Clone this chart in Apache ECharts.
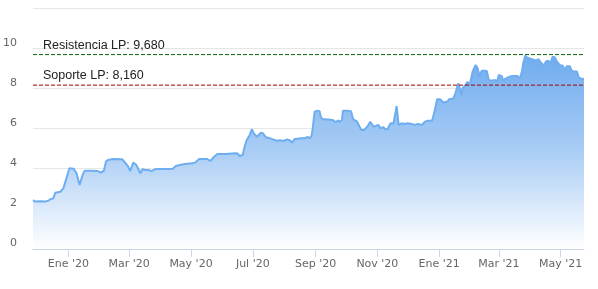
<!DOCTYPE html>
<html>
<head>
<meta charset="utf-8">
<script src="https://cdn.jsdelivr.net/npm/echarts@6/dist/echarts.min.js"></script>
<style>html,body{margin:0;padding:0;background:#fff}#c{width:598px;height:289px}</style>
</head>
<body>
<div id="c"></div>
<script>
var dates = ['2019-11-27','2019-11-29','2019-12-04','2019-12-09','2019-12-12','2019-12-14','2019-12-17','2019-12-19','2019-12-24','2019-12-27','2019-12-31',
'2020-01-02','2020-01-06','2020-01-09','2020-01-12','2020-01-15','2020-01-17','2020-01-23','2020-01-30','2020-02-02','2020-02-05','2020-02-07','2020-02-09','2020-02-14','2020-02-23','2020-02-26','2020-02-29',
'2020-03-02','2020-03-05','2020-03-08','2020-03-12','2020-03-14','2020-03-17','2020-03-20','2020-03-23','2020-03-27','2020-04-03','2020-04-09','2020-04-13','2020-04-16','2020-04-20','2020-04-25',
'2020-05-02','2020-05-05','2020-05-09','2020-05-17','2020-05-20','2020-05-23','2020-05-27','2020-06-04','2020-06-14','2020-06-16','2020-06-18','2020-06-21','2020-06-23','2020-06-25','2020-06-28','2020-06-30',
'2020-07-02','2020-07-05','2020-07-09','2020-07-11','2020-07-14','2020-07-18','2020-07-21','2020-07-25','2020-07-28','2020-07-31','2020-08-04','2020-08-07','2020-08-09','2020-08-11','2020-08-17','2020-08-22','2020-08-24','2020-08-26','2020-08-28','2020-08-29','2020-08-31',
'2020-09-03','2020-09-05','2020-09-06','2020-09-08','2020-09-13','2020-09-18','2020-09-21','2020-09-23','2020-09-25','2020-09-27','2020-09-28','2020-10-02','2020-10-03','2020-10-06','2020-10-08','2020-10-12','2020-10-13','2020-10-16','2020-10-19','2020-10-22','2020-10-25','2020-10-27','2020-10-29',
'2020-11-02','2020-11-04','2020-11-07','2020-11-09','2020-11-11','2020-11-14','2020-11-17','2020-11-20','2020-11-22','2020-11-25','2020-11-28','2020-12-01','2020-12-05','2020-12-08','2020-12-09','2020-12-11','2020-12-15','2020-12-18','2020-12-21','2020-12-25','2020-12-27','2020-12-30',
'2021-01-02','2021-01-05','2021-01-09','2021-01-11','2021-01-15','2021-01-17','2021-01-20','2021-01-21','2021-01-23','2021-01-24','2021-01-27','2021-01-29','2021-01-31','2021-02-02','2021-02-03','2021-02-06','2021-02-08','2021-02-10','2021-02-12','2021-02-15','2021-02-17','2021-02-19','2021-02-22','2021-02-25','2021-02-27',
'2021-03-01','2021-03-04','2021-03-05','2021-03-07','2021-03-10','2021-03-14','2021-03-19','2021-03-20','2021-03-22','2021-03-24','2021-03-25','2021-03-27','2021-03-29','2021-04-02','2021-04-03','2021-04-07','2021-04-09','2021-04-12','2021-04-14','2021-04-17','2021-04-19','2021-04-21','2021-04-23','2021-04-25','2021-04-27','2021-04-30',
'2021-05-03','2021-05-05','2021-05-07','2021-05-10','2021-05-12','2021-05-14','2021-05-17','2021-05-19','2021-05-22','2021-05-24'];
var prices = [2.44,2.36,2.38,2.36,2.40,2.47,2.52,2.80,2.85,3.02,3.69,
4.02,4.00,3.77,3.19,3.69,3.90,3.90,3.88,3.80,3.90,4.35,4.43,4.48,4.47,4.30,4.10,
3.88,4.30,4.18,3.77,3.97,3.93,3.93,3.88,3.98,3.98,3.98,4.00,4.13,4.18,4.23,
4.27,4.30,4.48,4.48,4.38,4.55,4.73,4.73,4.77,4.75,4.63,4.68,5.10,5.43,5.68,5.96,
5.76,5.59,5.79,5.76,5.56,5.51,5.46,5.39,5.41,5.38,5.46,5.39,5.29,5.46,5.51,5.51,5.59,5.51,5.63,5.93,6.84,
6.89,6.86,6.59,6.47,6.45,6.42,6.31,6.40,6.34,6.42,6.89,6.89,6.96,6.86,6.47,6.34,6.26,5.93,5.93,6.09,6.34,6.18,6.09,
6.18,6.01,6.06,5.96,5.96,6.26,6.26,7.12,6.18,6.26,6.22,6.26,6.22,6.18,6.09,6.22,6.18,6.34,6.39,6.39,6.76,7.46,
7.46,7.29,7.34,7.46,7.50,7.75,8.25,8.25,7.67,8.00,8.17,8.33,8.17,8.58,8.83,9.16,9.00,8.58,8.88,8.88,8.86,8.42,8.38,8.42,8.33,
8.67,8.60,8.38,8.47,8.55,8.62,8.62,8.53,8.50,8.91,9.25,9.63,9.53,9.46,9.44,9.38,9.46,9.25,9.13,9.36,9.36,9.25,9.58,9.55,9.36,9.16,
9.13,8.91,9.10,9.10,8.86,8.84,8.84,8.53,8.47,8.48];
var tickDates = ['2020-01-01','2020-03-01','2020-05-01','2020-07-01','2020-09-01','2020-11-01','2021-01-01','2021-03-01','2021-05-01'];
var tickLabels = ["Ene '20","Mar '20","May '20","Jul '20","Sep '20","Nov '20","Ene '21","Mar '21","May '21"];
var resistencia = 9.68, soporte = 8.16;
var resistenciaLabel = 'Resistencia LP: 9,680', soporteLabel = 'Soporte LP: 8,160';

function ts(d){ return Date.parse(d + 'T00:00:00Z'); }
var tickTs = tickDates.map(ts);
var chart = echarts.init(document.getElementById('c'));
var lineData = dates.map(function(d, i){ return [ts(d), prices[i]]; });
var x0 = ts(dates[0]), x1 = ts(dates[dates.length - 1]);
function hLine(v, color){
  return {type: 'line', data: [[x0, v], [x1, v]], showSymbol: false, silent: true, z: 5,
    lineStyle: {color: color, width: 1, type: [4, 2]}};
}
chart.setOption({
  animation: false,
  grid: {left: 33, right: 14, top: 8, bottom: 40},
  xAxis: {
    type: 'value', min: x0, max: x1,
    axisLine: {lineStyle: {color: '#ccd6eb'}},
    axisTick: {show: true, length: 8, lineStyle: {color: '#ccd6eb'}, customValues: tickTs},
    splitLine: {show: false},
    axisLabel: {
      customValues: tickTs, color: '#666666', fontSize: 11, fontFamily: 'DejaVu Sans', margin: 10,
      formatter: function(v){ var i = tickTs.indexOf(v); return i >= 0 ? tickLabels[i] : ''; }
    }
  },
  yAxis: {
    type: 'value', min: 0, max: 12, interval: 2,
    axisLine: {show: false}, axisTick: {show: false},
    splitLine: {lineStyle: {color: '#e6e6e6'}},
    axisLabel: {color: '#666666', fontSize: 11, fontFamily: 'DejaVu Sans', margin: 16, verticalAlign: 'bottom', showMaxLabel: false}
  },
  series: [{
    type: 'line',
    data: lineData,
    showSymbol: false,
    lineStyle: {color: '#6eaef0', width: 2},
    itemStyle: {color: '#6eaef0'},
    areaStyle: {opacity: 1, color: new echarts.graphic.LinearGradient(0, 0, 0, 1, [
      {offset: 0, color: 'rgb(112,172,238)'},
      {offset: 0.5, color: 'rgb(170,205,245)'},
      {offset: 1, color: 'rgb(255,255,255)'}
    ])},
    markLine: {
      silent: true, symbol: ['none', 'none'],
      lineStyle: {color: 'rgba(0,0,0,0)', width: 0},
      data: [
        {yAxis: resistencia, label: {formatter: resistenciaLabel}},
        {yAxis: soporte, label: {formatter: soporteLabel}}
      ],
      label: {position: 'insideStartTop', color: '#222', fontSize: 12.5, fontFamily: 'Liberation Sans', distance: [10, 3]}
    }
  }, hLine(resistencia, '#0a640a'), hLine(soporte, '#a50000')]
});
</script>
</body>
</html>
